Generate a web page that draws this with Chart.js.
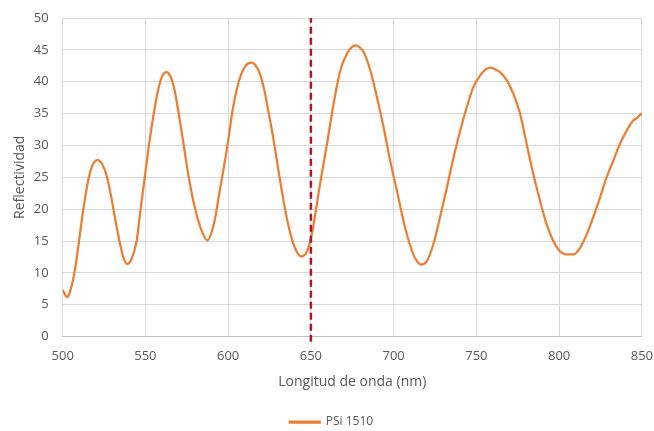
<!DOCTYPE html>
<html>
<head>
<meta charset="utf-8">
<script src="https://cdn.jsdelivr.net/npm/chart.js@4"></script>
<style>
  html, body { margin: 0; padding: 0; background: #fff; }
  #wrap { width: 654px; height: 431px; }
</style>
</head>
<body>
<div id="wrap"><canvas id="myChart" width="654" height="431"></canvas></div>
<script>
// wavelength (nm) and reflectivity
const wavelength = [
  500, 502.8, 504, 506, 507.5, 509.9, 512.5, 515.5, 518, 521.2,
  524, 526.5, 529, 531.5, 534, 536.5, 539, 541.5, 544.7, 547,
  549.5, 552, 554.8, 557.5, 560, 562.8, 565, 567.5, 570, 573,
  576, 579.2, 583.3, 587.3, 591.3, 595, 599.4, 603, 607, 610.5,
  614, 617, 619.5, 622, 624.2, 627.5, 631.2, 635, 638.5, 641.5,
  644.2, 647.7, 650.5, 655.7, 659.7, 663.7, 667.8, 671.8, 674.5, 677.2,
  679.5, 681.8, 685.9, 689.9, 693.9, 697.9, 702, 706, 710, 713,
  716.7, 720, 724, 728, 732.2, 736.2, 740.2, 744.2, 748.2, 752.3,
  755.5, 758.3, 761.5, 764.3, 768.4, 772.4, 776.4, 780.4, 784.4, 788.5,
  792.5, 796.5, 800.5, 804.6, 808.6, 812.6, 816.6, 820.6, 824.7, 828.7,
  832.7, 836.7, 840.8, 844.8, 847, 850
];
const reflectivity = [
  7.3, 6.2, 6.7, 8.6, 10.6, 15.0, 20.0, 24.6, 26.9, 27.7,
  27.0, 25.3, 22.4, 18.8, 15.4, 12.6, 11.4, 12.1, 15.0, 19.8,
  24.8, 29.8, 34.6, 38.5, 40.8, 41.5, 40.9, 38.8, 35.2, 30.3,
  25.3, 21.0, 17.1, 15.1, 17.6, 23.0, 29.7, 36.0, 40.5, 42.5,
  43.0, 42.4, 41.0, 38.5, 35.5, 30.8, 24.8, 19.2, 15.3, 13.3,
  12.6, 13.4, 16.0, 24.2, 30.2, 36.5, 41.8, 44.4, 45.4, 45.7,
  45.4, 44.7, 41.8, 37.6, 32.9, 27.6, 22.9, 18.1, 14.3, 12.3,
  11.3, 11.8, 14.5, 18.7, 23.4, 28.1, 32.3, 36.0, 39.2, 41.0,
  41.9, 42.2, 41.9, 41.5, 40.2, 38.1, 35.0, 30.2, 25.5, 21.3,
  17.6, 15.0, 13.4, 12.9, 12.9, 13.9, 16.0, 18.7, 21.8, 25.0,
  27.6, 30.2, 32.3, 33.9, 34.3, 35.1
];
// vertical reference line at 650 nm (runs a little below the axis, as in the original)
const markerX = [650, 650];
const markerY = [-0.8, 50];

const seriesPoints = wavelength.map((w, i) => ({ x: w, y: reflectivity[i] }));
const markerPoints = markerX.map((w, i) => ({ x: w, y: markerY[i] }));

const fontFamily = "'Open Sans', 'Liberation Sans', sans-serif";
const tickColor = '#595959';
const gridColor = '#d9d9d9';

const data = {
  datasets: [{
    label: 'PSi 1510',
    data: seriesPoints,
    borderColor: '#ed7d31',
    backgroundColor: '#ed7d31',
    borderWidth: 2.25,
    pointRadius: 0,
    cubicInterpolationMode: 'monotone',
    order: 2
  }, {
    label: 'marker',
    data: markerPoints,
    borderColor: '#b8122a',
    borderWidth: 2.5,
    borderDash: [7, 4],
    pointRadius: 0,
    clip: false,
    order: 1
  }]
};

const config = {
  type: 'line',
  data,
  options: {
    responsive: false,
    animation: false,
    layout: { padding: { left: 9, right: 0, top: 18, bottom: -7 } },
    plugins: {
      legend: {
        position: 'bottom',
        labels: {
          filter: item => item.text !== 'marker',
          boxWidth: 30,
          boxHeight: 1,
          color: tickColor,
          font: { family: fontFamily, size: 12 },
          padding: 0
        }
      },
      tooltip: { enabled: false }
    },
    scales: {
      x: {
        type: 'linear',
        min: 500,
        max: 850,
        ticks: { stepSize: 50, color: tickColor, font: { family: fontFamily, size: 13 }, padding: 1 },
        grid: { color: gridColor, tickColor: 'rgba(0,0,0,0)', tickLength: 11 },
        border: { color: '#bfbfbf' },
        title: {
          display: true,
          text: 'Longitud de onda (nm)',
          color: tickColor,
          font: { family: fontFamily, size: 14 },
          padding: { top: 8, bottom: 26 }
        }
      },
      y: {
        min: 0,
        max: 50,
        ticks: { stepSize: 5, color: tickColor, font: { family: fontFamily, size: 13 }, padding: 2 },
        grid: { color: gridColor, tickColor: 'rgba(0,0,0,0)', tickLength: 12 },
        border: { display: false },
        title: {
          display: true,
          text: 'Reflectividad',
          color: tickColor,
          font: { family: fontFamily, size: 14 },
          padding: { top: 3, bottom: 3 }
        }
      }
    }
  }
};

var myChart = new Chart(document.getElementById('myChart'), config);
</script>
</body>
</html>
